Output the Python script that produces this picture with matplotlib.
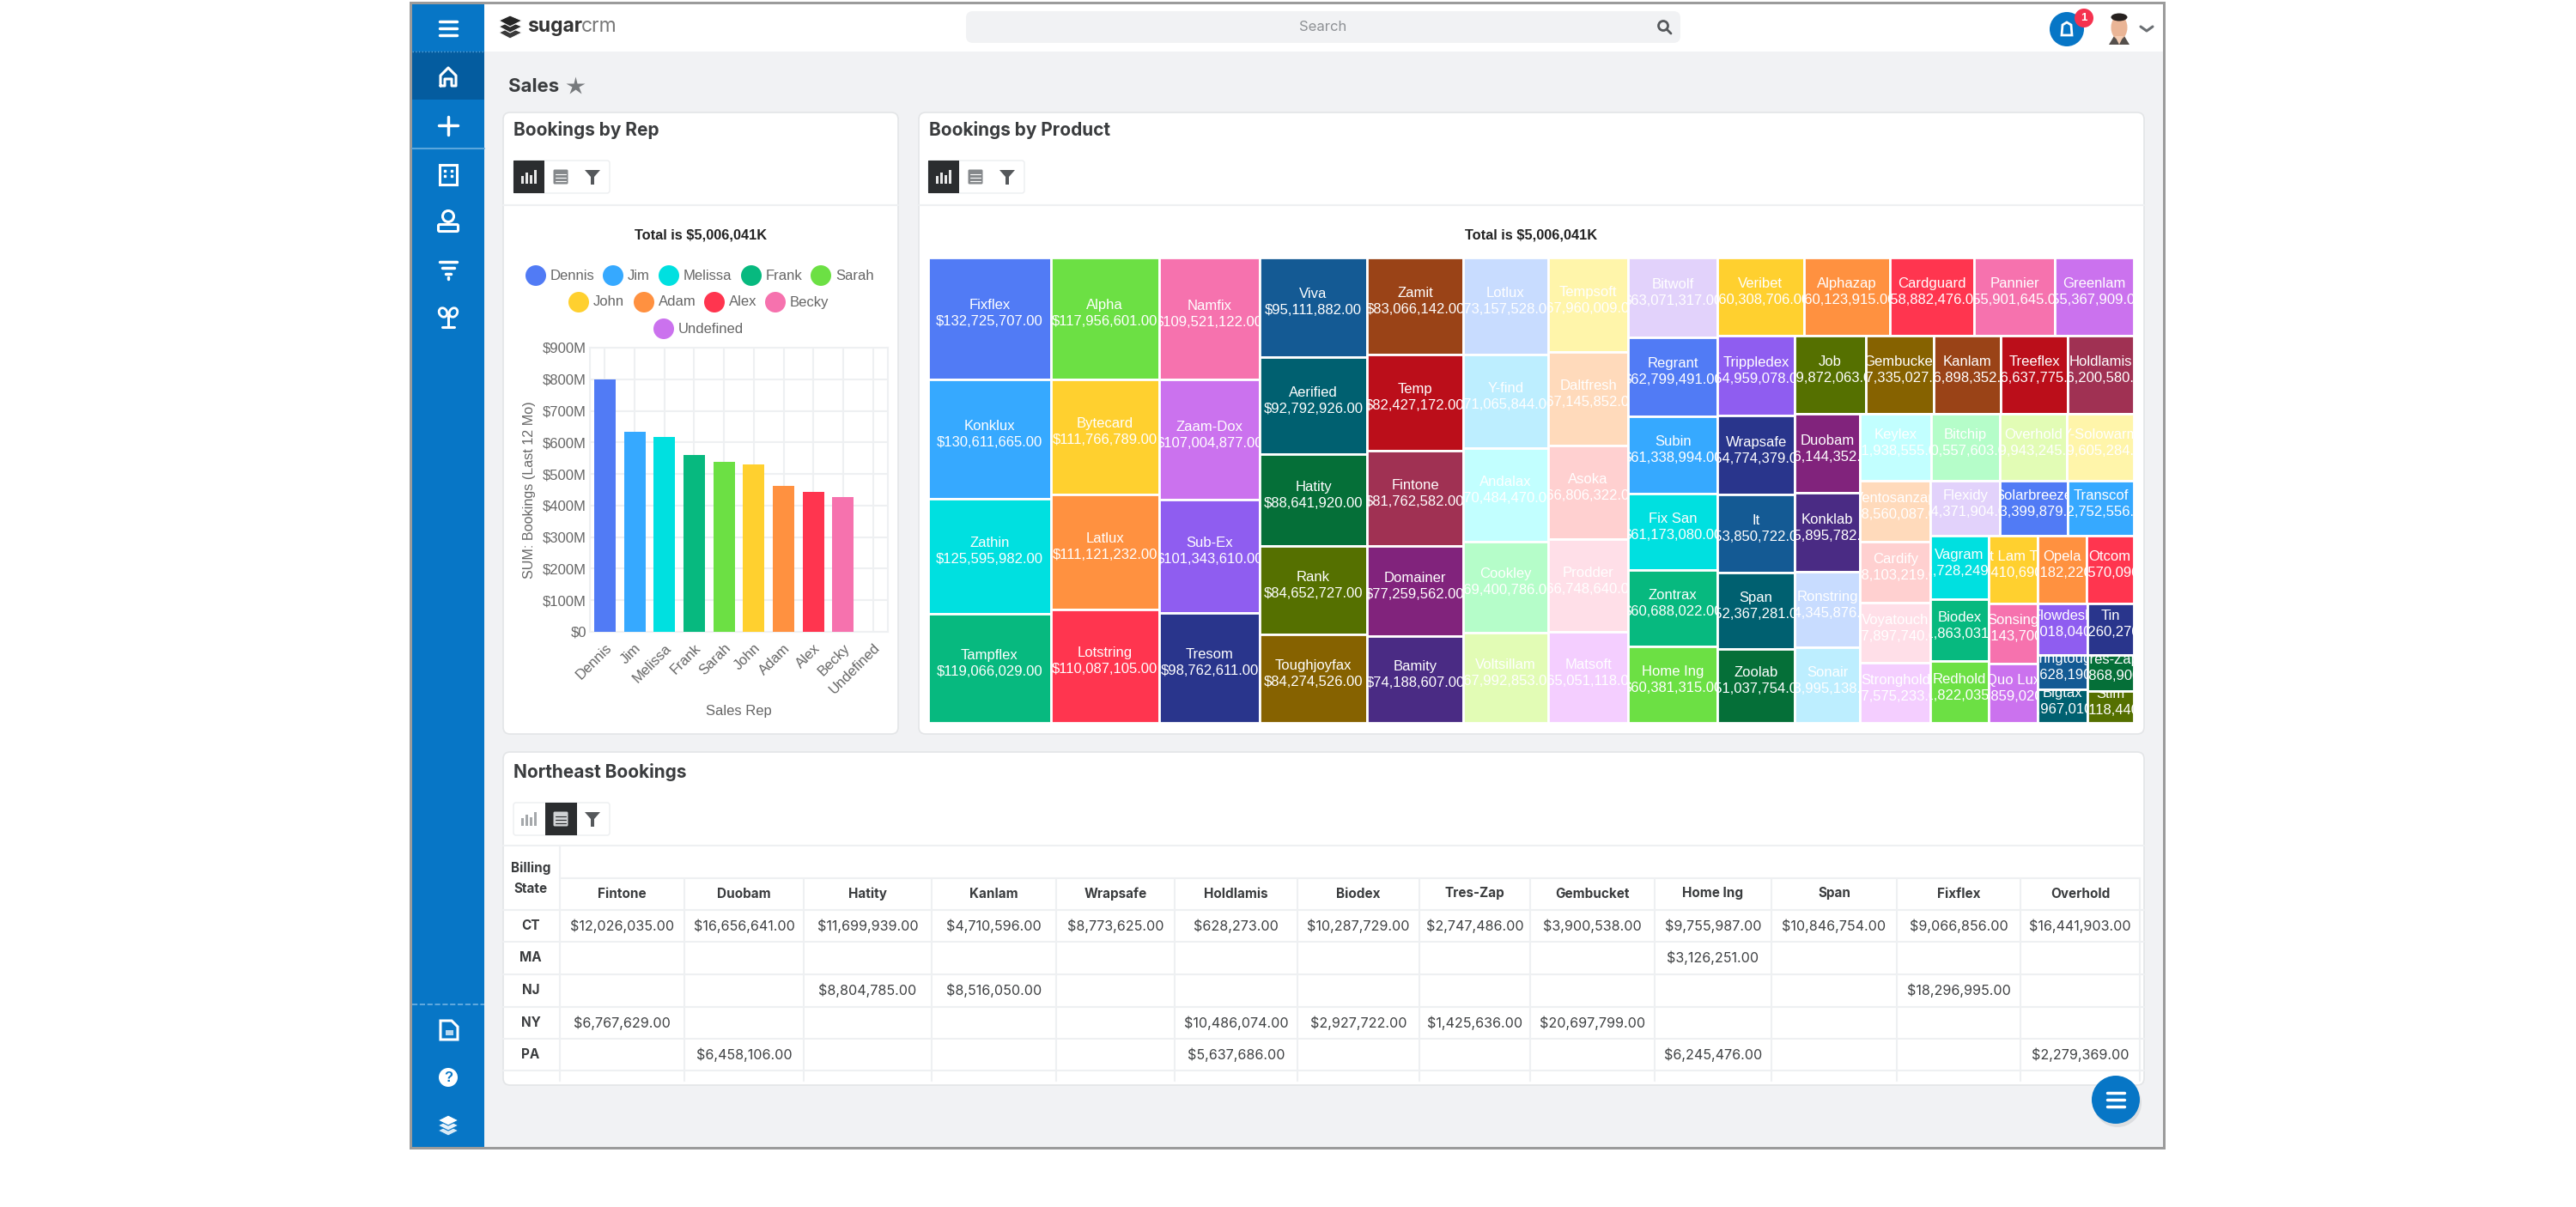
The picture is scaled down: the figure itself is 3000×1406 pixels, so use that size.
import matplotlib
matplotlib.use("Agg")
import matplotlib.pyplot as plt
from matplotlib.patches import Rectangle, Circle, FancyBboxPatch, Polygon, Ellipse

W, H = 3000, 1406

# bar chart data
reps = ["Dennis", "Jim", "Melissa", "Frank", "Sarah", "John", "Adam", "Alex", "Becky", "Undefined"]
rep_bookings = [799, 634, 617, 559, 539, 529, 462, 444, 426, 0]
y_ticks = [0, 100, 200, 300, 400, 500, 600, 700, 800, 900]
y_tick_labels = ["$0", "$100M", "$200M", "$300M", "$400M", "$500M", "$600M", "$700M", "$800M", "$900M"]

palette = ["#517bf5", "#36a9ff", "#00e0e0", "#07b97f", "#6ce044", "#ffd02f", "#ff9140", "#ff354f",
           "#f672ae", "#cb72ee", "#8f5df0", "#29358c", "#145a94", "#006070", "#056f38", "#557000",
           "#866200", "#9a4317", "#bb0e1a", "#a03153", "#81237c", "#4a2b84", "#c8dcff", "#bdeeff",
           "#c2ffff", "#b5fdc9", "#e2fcb5", "#fff5aa", "#ffdabb", "#ffd0d0", "#ffdfe8", "#f4ceff",
           "#e2d2fb"]

# treemap data, biggest first
products = ["Fixflex", "Konklux", "Zathin", "Tampflex", "Alpha", "Bytecard", "Latlux", "Lotstring",
            "Namfix", "Zaam-Dox", "Sub-Ex", "Tresom", "Viva", "Aerified", "Hatity", "Rank",
            "Toughjoyfax", "Zamit", "Temp", "Fintone", "Domainer", "Bamity", "Lotlux", "Y-find",
            "Andalax", "Cookley", "Voltsillam", "Tempsoft", "Daltfresh", "Asoka", "Prodder", "Matsoft",
            "Bitwolf", "Regrant", "Subin", "Fix San", "Zontrax", "Home Ing", "Veribet", "Alphazap",
            "Cardguard", "Pannier", "Greenlam", "Trippledex", "Wrapsafe", "It", "Span", "Zoolab",
            "Job", "Gembucket", "Kanlam", "Treeflex", "Holdlamis", "Duobam", "Konklab", "Ronstring",
            "Sonair", "Keylex", "Bitchip", "Overhold", "Y-Solowarm", "Ventosanzap", "Cardify", "Voyatouch",
            "Stronghold", "Flexidy", "Solarbreeze", "Transcof", "Vagram", "Biodex", "Redhold", "Mat Lam Tam",
            "Opela", "Otcom", "Sonsing", "Quo Lux", "Flowdesk", "Tin", "Stringtough", "Bigtax",
            "Tres-Zap", "Stim"]
product_bookings = [132725707, 130611665, 125595982, 119066029, 117956601, 111766789, 111121232, 110087105,
                    109521122, 107004877, 101343610, 98762611, 95111882, 92792926, 88641920, 84652727,
                    84274526, 83066142, 82427172, 81762582, 77259562, 74188607, 73157528, 71065844,
                    70484470, 69400786, 67992853, 67960009, 67145852, 66806322, 66748640, 65051118,
                    63071317, 62799491, 61338994, 61173080, 60688022, 60381315, 60308706, 60123915,
                    58882476, 55901645, 55367909, 54959078, 54774379, 53850722, 52367281, 51037754,
                    49872063, 47335027, 46898352, 46637775, 46200580, 46144352, 45895782, 44345876,
                    43995138, 41938555, 40557603, 39943245, 39605284, 38560087, 38103219, 37897740,
                    37575233, 34371904, 33399879, 32752556, 32728249, 31863031, 31822035, 29410690,
                    29182220, 28570090, 26143700, 25859020, 23018040, 21260270, 15628190, 14967010,
                    14868900, 13118440]

# table data
table_cols = ["Fintone", "Duobam", "Hatity", "Kanlam", "Wrapsafe", "Holdlamis", "Biodex", "Tres-Zap",
              "Gembucket", "Home Ing", "Span", "Fixflex", "Overhold"]
table_states = ["CT", "MA", "NJ", "NY", "PA"]
ct_row = [12026035, 16656641, 11699939, 4710596, 8773625, 628273, 10287729, 2747486, 3900538, 9755987,
          10846754, 9066856, 16441903]
ma_row = [None, None, None, None, None, None, None, None, None, 3126251, None, None, None]
nj_row = [None, None, 8804785, 8516050, None, None, None, None, None, None, None, 18296995, None]
ny_row = [6767629, None, None, None, None, 10486074, 2927722, 1425636, 20697799, None, None, None, None]
pa_row = [None, 6458106, None, None, None, 5637686, None, None, None, 6245476, None, None, 2279369]
table_rows = [ct_row, ma_row, nj_row, ny_row, pa_row]

BLUE = "#0776c6"
DARK = "#2b2d2f"
GREY = "#6b6f73"
LINE = "#eef0f2"
UI = ["Inter", "DejaVu Sans"]
CHART = ["Liberation Sans", "DejaVu Sans"]

fig = plt.figure(figsize=(W / 100, H / 100), dpi=100, facecolor="white")
ax = fig.add_axes([0, 0, 1, 1])
ax.set_xlim(0, W)
ax.set_ylim(H, 0)
ax.axis("off")


def box(x0, y0, x1, y1, color, z=1, **kw):
    ax.add_patch(Rectangle((x0, y0), x1 - x0, y1 - y0, facecolor=color, edgecolor="none", zorder=z, **kw))


def line(xs, ys, color="white", lw=2.5, z=5, **kw):
    ax.plot(xs, ys, color=color, lw=lw, zorder=z, solid_capstyle="round", **kw)


def card(x0, y0, x1, y1):
    ax.add_patch(FancyBboxPatch((x0 + 8, y0 + 8), x1 - x0 - 16, y1 - y0 - 16, boxstyle="round,pad=8",
                                facecolor="white", edgecolor="#e3e5e7", lw=1.2, zorder=2))


def bar_icon(cx, cy, color):
    for dx, h in zip([-8, -3, 2, 7], [9, 13, 10, 16]):
        box(cx + dx - 1.5, cy + 8 - h, cx + dx + 1.5, cy + 8, color, z=5)


def table_icon(cx, cy, color, bg):
    ax.add_patch(FancyBboxPatch((cx - 7, cy - 7), 14, 14, boxstyle="round,pad=1.5", facecolor=color,
                                edgecolor="none", zorder=5))
    for dy in [-3, 1, 5]:
        line([cx - 6, cx + 6], [cy + dy, cy + dy], color=bg, lw=0.8, z=6)


def funnel_icon(cx, cy, color):
    ax.add_patch(Polygon([(cx - 9, cy - 8), (cx + 9, cy - 8), (cx + 2, cy), (cx + 2, cy + 9), (cx - 2, cy + 9),
                          (cx - 2, cy)], facecolor=color, edgecolor="none", zorder=5))


def toolbar(x0, y0, y1, active):
    x1 = x0 + 112
    ax.add_patch(FancyBboxPatch((x0 + 3, y0 + 3), x1 - x0 - 6, y1 - y0 - 6, boxstyle="round,pad=3",
                                facecolor="white", edgecolor="#eceef0", lw=1, zorder=3))
    if active == 0:
        box(x0, y0, x0 + 36, y1, DARK, z=4)
        bar_icon(x0 + 18, (y0 + y1) / 2, "#e8e8e8")
        table_icon(x0 + 55, (y0 + y1) / 2, "#85888b", "white")
    else:
        box(x0 + 37, y0, x0 + 74, y1, DARK, z=4)
        bar_icon(x0 + 18, (y0 + y1) / 2, "#a5a8ab")
        table_icon(x0 + 55, (y0 + y1) / 2, "#d0d2d4", DARK)
    funnel_icon(x0 + 92, (y0 + y1) / 2, "#55585b")


def worst(row, side):
    s = sum(row)
    return max(side * side * max(row) / (s * s), s * s / (side * side * min(row)))


def squarify(values, x, y, w, h):
    scale = w * h / sum(values)
    areas = [v * scale for v in values]
    rects = []
    i = 0
    while i < len(areas):
        side = min(w, h)
        row = [areas[i]]
        j = i + 1
        while j < len(areas) and worst(row + [areas[j]], side) <= worst(row, side):
            row.append(areas[j])
            j += 1
        s = sum(row)
        if w >= h:
            cw = s / h
            yy = y
            for a in row:
                rects.append((x, yy, cw, a / cw))
                yy += a / cw
            x += cw
            w -= cw
        else:
            ch = s / w
            xx = x
            for a in row:
                rects.append((xx, y, a / ch, ch))
                xx += a / ch
            y += ch
            h -= ch
        i = j
    return rects


# window and nav bars
box(477, 2, 2522, 1339, "#9b9b9b", z=0)
box(480, 5, 2519, 1336, "#f1f2f4", z=0.5)
box(564, 5, 2519, 60, "white", z=1)
box(480, 5, 564, 1336, BLUE, z=1)
box(480, 60, 564, 116, "#045c9f", z=2)
line([480, 564], [173, 173], color="#5ba6dc", lw=1.5)
line([480, 564], [60, 60], color="#5ba6dc", lw=1, ls=":")
line([480, 564], [1170, 1170], color="#72b3e2", lw=1.2, ls="--")

# sidebar icons
for yy in [25, 33, 41]:
    line([512, 532], [yy, yy])
line([513, 513, 522, 531, 531, 526, 526, 518, 518, 513], [100, 88, 79, 88, 100, 100, 92, 92, 100, 100], lw=2.2)
line([511, 533], [146, 146])
line([522, 522], [136, 157])
ax.add_patch(Rectangle((512, 192), 20, 23, facecolor="none", edgecolor="white", lw=2.2, zorder=5))
ax.plot([518, 526, 518, 526], [199, 199, 205, 205], "s", color="white", ms=2, zorder=5)
ax.add_patch(Circle((522, 252), 6.5, facecolor="none", edgecolor="white", lw=2.2, zorder=5))
ax.add_patch(FancyBboxPatch((512, 263), 20, 5, boxstyle="round,pad=1.5", facecolor="none", edgecolor="white",
                            lw=2.2, zorder=5))
line([512, 532], [305, 305], lw=2.5)
line([515, 529], [312, 312], lw=2.5)
line([519, 525], [319, 319], lw=2.5)
line([522, 522], [323, 325], lw=2.5)
line([522, 522], [368, 381], lw=2.2)
line([515, 529], [381, 381], lw=2.2)
ax.add_patch(Ellipse((516, 364), 9, 11, angle=-30, facecolor="none", edgecolor="white", lw=2, zorder=5))
ax.add_patch(Ellipse((528, 364), 9, 11, angle=30, facecolor="none", edgecolor="white", lw=2, zorder=5))
ax.add_patch(Polygon([(513, 1189), (526, 1189), (533, 1196), (533, 1211), (513, 1211)], facecolor="none",
                     edgecolor="white", lw=2.2, zorder=5))
box(519, 1200, 528, 1206, "#b8d8f0", z=5)
ax.add_patch(Circle((522, 1255), 11, facecolor="white", edgecolor="none", zorder=5))
ax.text(522, 1255, "?", color=BLUE, fontsize=12, fontweight="bold", ha="center", va="center", family=CHART, zorder=6)
for yy, c in zip([1317, 1311, 1305], ["#d7e9f6", "#e8f2fa", "white"]):
    ax.add_patch(Polygon([(510, yy), (522, yy - 6), (534, yy), (522, yy + 6)], facecolor=c, edgecolor=BLUE, lw=0.8,
                         zorder=5))

# header
for yy, c in zip([38, 31, 24], ["#3a3a3a", "#2d2d2d", "#262626"]):
    ax.add_patch(Polygon([(581, yy), (594, yy - 6), (608, yy), (594, yy + 7)], facecolor=c, edgecolor="white", lw=0.8,
                         zorder=5))
ax.text(614, 31, "sugar", fontsize=16.5, fontweight="bold", color="#333333", family=UI, ha="left", va="center", zorder=5)
ax.text(677, 31, "crm", fontsize=16.5, color="#777777", family=UI, ha="left", va="center", zorder=5)
ax.add_patch(FancyBboxPatch((1133, 21), 816, 21, boxstyle="round,pad=8", facecolor="#f1f2f4", edgecolor="none", zorder=2))
ax.text(1541, 31, "Search", fontsize=12, color="#8d9094", family=UI, ha="center", va="center", zorder=5)
ax.add_patch(Circle((1937, 30), 5.5, facecolor="none", edgecolor="#55585b", lw=2, zorder=5))
line([1941, 1946], [34, 39], color="#55585b", lw=2)
ax.add_patch(Circle((2407, 34), 20, facecolor=BLUE, edgecolor="none", zorder=5))
ax.add_patch(Polygon([(2401, 41), (2402, 29), (2407, 26), (2412, 29), (2413, 41)], facecolor="none", edgecolor="white",
                     lw=2, zorder=6))
ax.add_patch(Circle((2427, 21), 11, facecolor="#f5324f", edgecolor="none", zorder=7))
ax.text(2427, 21, "1", color="white", fontsize=9.5, fontweight="bold", ha="center", va="center", family=CHART, zorder=8)
ax.add_patch(Polygon([(2456, 52), (2462, 42), (2474, 42), (2480, 52)], facecolor="#55504c", edgecolor="none", zorder=5))
ax.add_patch(Ellipse((2468, 32), 19, 28, facecolor="#eab596", edgecolor="none", zorder=6))
ax.add_patch(Ellipse((2468, 20), 19, 9, facecolor="#26211f", edgecolor="none", zorder=7))
ax.add_patch(Polygon([(2463, 42), (2473, 42), (2468, 52)], facecolor="#f4ccb2", edgecolor="none", zorder=7))
line([2493, 2500, 2507], [31, 36, 31], color="#6b6f73", lw=2.2)
ax.text(592, 101, "Sales", fontsize=16, fontweight="bold", color="#3a3c3e", family=UI, ha="left", va="center", zorder=5)
ax.plot([670], [100], marker="*", ms=16, color="#76797c", mec="none", zorder=5)

# cards
card(586, 131, 1046, 855)
card(1070, 131, 2497, 855)
card(586, 876, 2497, 1264)
ax.text(598, 151, "Bookings by Rep", fontsize=15, fontweight="bold", color="#3a3c3e", family=UI, va="center", zorder=5)
ax.text(1082, 151, "Bookings by Product", fontsize=15, fontweight="bold", color="#3a3c3e", family=UI, va="center", zorder=5)
ax.text(598, 899, "Northeast Bookings", fontsize=15, fontweight="bold", color="#3a3c3e", family=UI, va="center", zorder=5)
toolbar(598, 187, 225, 0)
toolbar(1081, 187, 225, 0)
toolbar(598, 935, 973, 1)
line([586, 1046], [239, 239], color=LINE, lw=1.5, z=3)
line([1070, 2497], [239, 239], color=LINE, lw=1.5, z=3)
ax.text(816, 274, "Total is $5,006,041K", fontsize=11.8, fontweight="bold", color="#222222", family=CHART,
        ha="center", va="center", zorder=5)
ax.text(1783, 274, "Total is $5,006,041K", fontsize=11.8, fontweight="bold", color="#222222", family=CHART,
        ha="center", va="center", zorder=5)

# legend, three centred rows like the original
legend_x = [624, 714, 779, 875, 956, 674, 750, 832, 903, 773]
legend_y = [321, 321, 321, 321, 321, 352, 352, 352, 352, 383]
for i, name in enumerate(reps):
    ax.add_patch(Circle((legend_x[i], legend_y[i]), 12, facecolor=palette[i], edgecolor="none", zorder=5))
    ax.text(legend_x[i] + 17, legend_y[i], name, fontsize=12, color="#666666", family=CHART, va="center", zorder=5)

# bar chart
bx = fig.add_axes([687 / W, 1 - 736 / H, (1034 - 687) / W, (736 - 405) / H], facecolor="none", zorder=3)
bx.bar(range(len(reps)), rep_bookings, width=0.72, color=palette[:len(reps)], zorder=3)
bx.set_xlim(-0.5, len(reps) - 0.5)
bx.set_ylim(0, 900)
bx.set_yticks(y_ticks)
bx.set_yticklabels(y_tick_labels, fontsize=12, color="#666666", family=CHART)
bx.set_xticks(range(len(reps)))
bx.set_xticklabels(reps, fontsize=12, color="#666666", family=CHART, rotation=45, ha="right", rotation_mode="anchor")
bx.tick_params(length=0, pad=3)
bx.tick_params(axis="x", pad=8)
bx.grid(color=LINE, lw=1.5, zorder=0)
bx.set_axisbelow(True)
for s in bx.spines.values():
    s.set_color(LINE)
    s.set_linewidth(1.5)
bx.set_ylabel("SUM: Bookings (Last 12 Mo)", fontsize=11.6, color="#666666", family=CHART, labelpad=6)
bx.set_xlabel("Sales Rep", fontsize=12, color="#666666", family=CHART, labelpad=7)

# treemap
cells = squarify(product_bookings, 1081, 300, 1404, 542)
for i, (x, y, w, h) in enumerate(cells):
    r = Rectangle((x, y), w, h, facecolor=palette[i % len(palette)], edgecolor="white", lw=2, zorder=3)
    ax.add_patch(r)
    money = "${:,.2f}".format(product_bookings[i])
    t1 = ax.text(x + w / 2, y + h / 2 - 15, products[i], color="white", fontsize=12, family=CHART, ha="center",
                 va="center", zorder=4, clip_on=True)
    t2 = ax.text(x + w / 2, y + h / 2 + 4, money, color="white", fontsize=12, family=CHART, ha="center",
                 va="center", zorder=4, clip_on=True)
    t1.set_clip_path(r)
    t2.set_clip_path(r)

# table
col_edges = [652, 797, 936, 1085, 1230, 1368, 1511, 1653, 1782, 1927, 2063, 2209, 2353, 2492]
row_edges = [1060, 1097, 1135, 1173, 1210, 1247]
line([586, 2497], [985, 985], color=LINE, lw=1.5, z=3)
line([652, 2492], [1023, 1023], color=LINE, lw=1.5, z=3)
for yy in row_edges:
    line([586, 2497], [yy, yy], color=LINE, lw=1.5, z=3)
line([652, 652], [985, 1259], color=LINE, lw=1.5, z=3)
for xx in col_edges[1:]:
    line([xx, xx], [1023, 1259], color=LINE, lw=1.5, z=3)
ax.text(618, 1011, "Billing", fontsize=11, fontweight="bold", color="#3a3c3e", family=UI, ha="center", va="center", zorder=5)
ax.text(618, 1036, "State", fontsize=11, fontweight="bold", color="#3a3c3e", family=UI, ha="center", va="center", zorder=5)
for c, name in enumerate(table_cols):
    ax.text((col_edges[c] + col_edges[c + 1]) / 2, 1041, name, fontsize=11, fontweight="bold", color="#3a3c3e",
            family=UI, ha="center", va="center", zorder=5)
for r, state in enumerate(table_states):
    yy = (row_edges[r] + row_edges[r + 1]) / 2
    ax.text(618, yy, state, fontsize=11, fontweight="bold", color="#3a3c3e", family=UI, ha="center", va="center", zorder=5)
    for c, v in enumerate(table_rows[r]):
        if v is None:
            continue
        ax.text((col_edges[c] + col_edges[c + 1]) / 2, yy, "${:,.2f}".format(v), fontsize=11.6, color="#3f4143", family=UI,
                ha="center", va="center", zorder=5)

# floating button
ax.add_patch(Circle((2466, 1285), 28, facecolor="#c9cbce", edgecolor="none", alpha=0.5, zorder=6))
ax.add_patch(Circle((2464, 1281), 28, facecolor=BLUE, edgecolor="none", zorder=7))
for yy in [1273, 1281, 1289]:
    line([2454, 2474], [yy, yy], z=8)

fig.savefig("out.png", dpi=100, facecolor="white")
